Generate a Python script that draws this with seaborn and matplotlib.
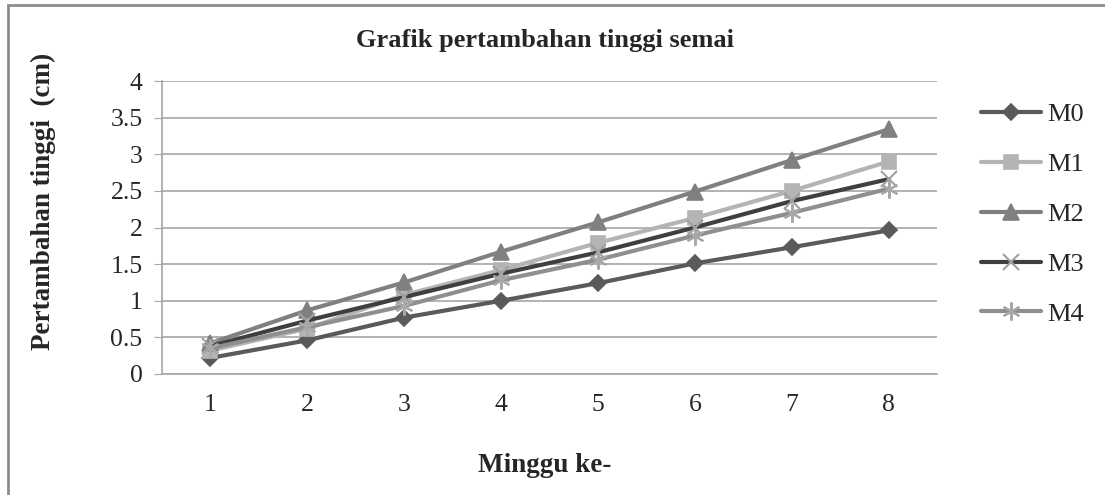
import matplotlib
matplotlib.use("Agg")
import matplotlib.pyplot as plt
import matplotlib.patches as mpatches
import seaborn as sns
import pandas as pd

# === data ===
minggu = [1, 2, 3, 4, 5, 6, 7, 8]
m0 = [0.22, 0.46, 0.77, 1.00, 1.24, 1.51, 1.73, 1.96]
m1 = [0.32, 0.62, 1.08, 1.42, 1.79, 2.13, 2.50, 2.90]
m2 = [0.42, 0.87, 1.25, 1.67, 2.07, 2.49, 2.92, 3.34]
m3 = [0.38, 0.73, 1.05, 1.37, 1.66, 2.00, 2.36, 2.66]
m4 = [0.35, 0.64, 0.93, 1.28, 1.56, 1.89, 2.20, 2.53]
series = ["M0", "M1", "M2", "M3", "M4"]

df = pd.DataFrame({"Minggu": minggu, "M0": m0, "M1": m1, "M2": m2, "M3": m3, "M4": m4})
long_df = df.melt(id_vars="Minggu", var_name="Perlakuan", value_name="Tinggi")

colors = {"M0": "#5a5a5a", "M1": "#b4b4b4", "M2": "#808080", "M3": "#3f3f3f", "M4": "#8f8f8f"}
markers = {"M0": "D", "M1": "s", "M2": "^", "M3": "x", "M4": (6, 2, 0)}
msize = {"M0": 8, "M1": 10, "M2": 11, "M3": 11, "M4": 13}
mcolor = {"M0": "#5a5a5a", "M1": "#b4b4b4", "M2": "#808080", "M3": "#a0a0a0", "M4": "#a8a8a8"}

sns.set_style("white")
plt.rcParams["font.family"] = ["Liberation Serif", "DejaVu Serif"]

fig = plt.figure(figsize=(11.05, 4.95), dpi=100)
ax = fig.add_axes([162 / 1105, 1 - 374 / 495, (937 - 162) / 1105, (374 - 81) / 495])

for s in series:
    sub = long_df[long_df["Perlakuan"] == s]
    sns.lineplot(data=sub, x="Minggu", y="Tinggi", ax=ax, color=colors[s], lw=3,
                 marker=markers[s], markersize=msize[s], markerfacecolor=colors[s],
                 markeredgecolor=mcolor[s], markeredgewidth=1.2 if s not in ("M3", "M4") else 1.5,
                 label=s, legend=False)

ax.set_xlim(0.5, 8.5)
ax.set_ylim(0, 4)
ax.set_xticks(minggu)
ax.set_yticks([0, 0.5, 1, 1.5, 2, 2.5, 3, 3.5, 4])
ax.set_yticklabels(["0", "0.5", "1", "1.5", "2", "2.5", "3", "3.5", "4"])
ax.yaxis.grid(True, color="#a6a6a6", lw=1.2)
ax.set_axisbelow(True)
for side in ["top", "right"]:
    ax.spines[side].set_visible(False)
ax.spines["left"].set_color("#a6a6a6")
ax.spines["bottom"].set_color("#a6a6a6")
ax.spines["left"].set_linewidth(1.2)
ax.spines["bottom"].set_linewidth(1.2)
ax.tick_params(axis="y", which="both", left=True, length=6, color="#a6a6a6", labelsize=18.5, pad=8)
ax.tick_params(axis="x", which="both", bottom=False, labelsize=18.5, pad=11)

ax.set_xlabel("")
ax.set_ylabel("")
fig.text(0.493, 1 - 40 / 495, "Grafik pertambahan tinggi semai", ha="center", va="center",
         fontsize=19, fontweight="bold")
fig.text(0.493, 1 - 465 / 495, "Minggu ke-", ha="center", va="center",
         fontsize=19.5, fontweight="bold")
fig.text(43 / 1105, 1 - 201 / 495, "Pertambahan tinggi  (cm)", ha="center", va="center",
         rotation=90, fontsize=19.5, fontweight="bold")

handles, labels = ax.get_lines(), series
leg = ax.legend(handles[:5], labels, loc="upper left", bbox_to_anchor=(957 / 1105, 1 - 79 / 495),
                bbox_transform=fig.transFigure, frameon=False, fontsize=19,
                labelspacing=1.0, handlelength=2.3, handletextpad=0.2)

# outer chart border (only top and left edges fall inside the image)
fig.patches.append(mpatches.Rectangle((8 / 1105, -0.5), 2.0, 0.5 + 1 - 5 / 495,
                                      transform=fig.transFigure, fill=False,
                                      edgecolor="#8c8c8c", lw=2))

fig.savefig("out.png", dpi=100, facecolor="white")
